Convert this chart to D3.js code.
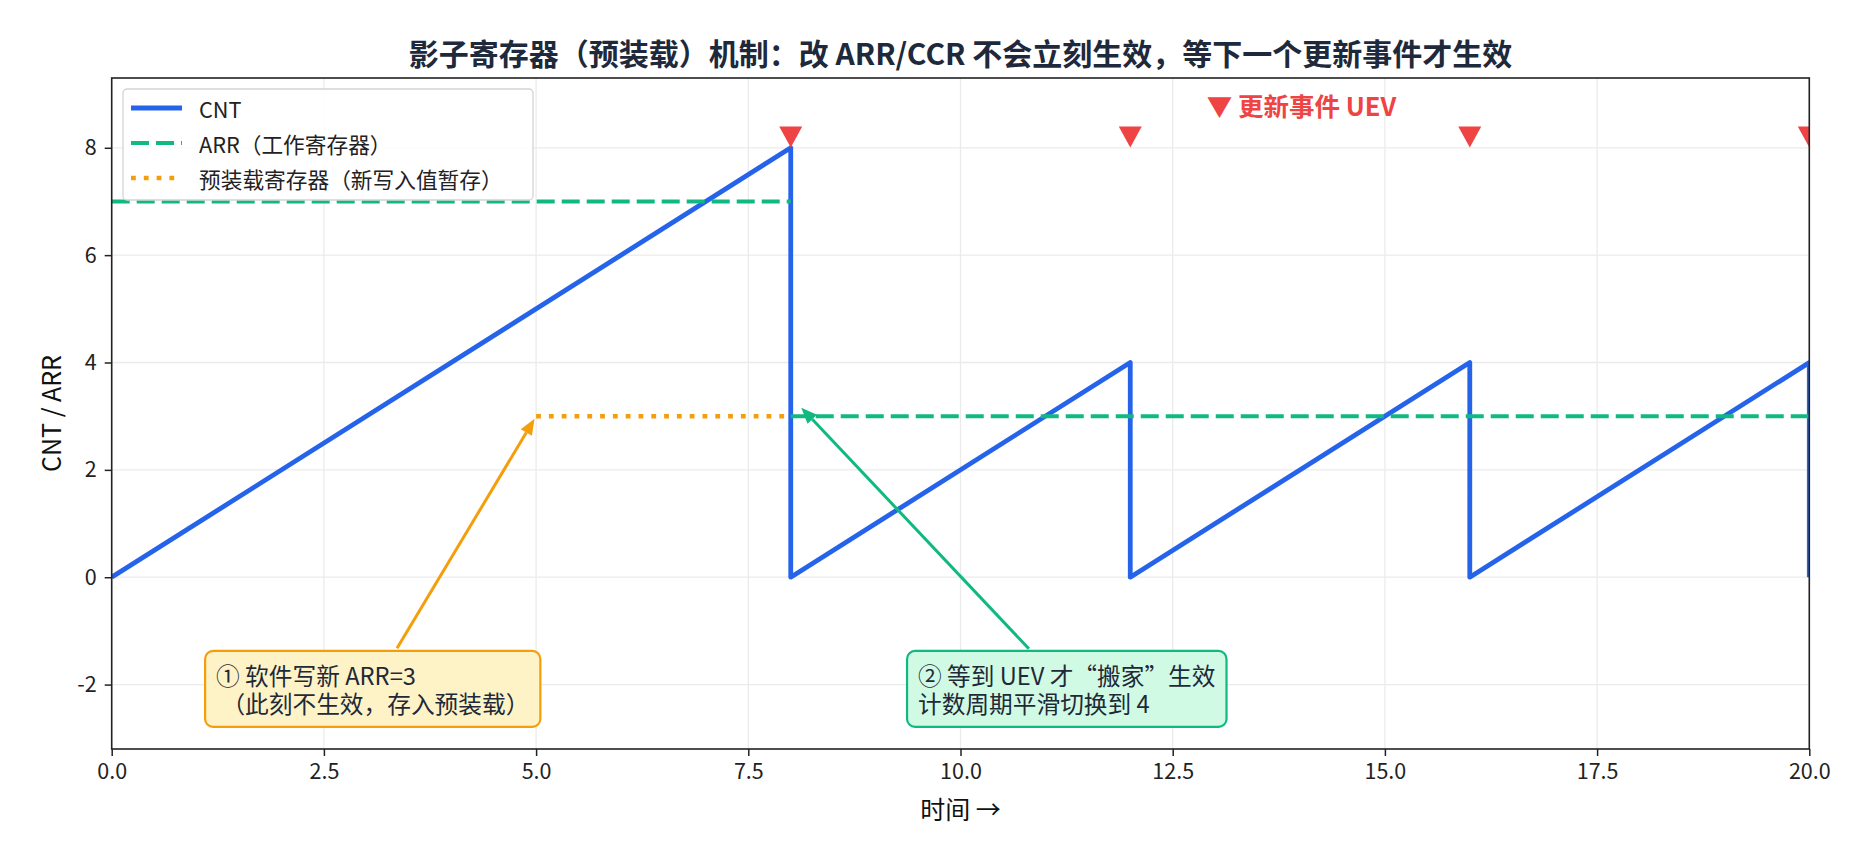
<!DOCTYPE html>
<html>
<head>
  <meta charset="utf-8">
  <title>影子寄存器</title>
  <style type="text/css">
    body { margin: 0; background: #fff; }
    svg { display: block; font-family: "Noto Sans CJK SC", "Noto Sans", sans-serif; }
  </style>
</head>
<body>
<div id="chart"></div>
<script src="https://cdn.jsdelivr.net/npm/d3@7"></script>
<script type="text/javascript">
// series
var cntT = [0, 8, 8, 12, 12, 16, 16, 20, 20];
var cntV = [0, 8, 0, 4, 0, 4, 0, 4, 0];
var arrT = [0, 8, null, 8, 20];
var arrV = [7, 7, null, 3, 3];
var preT = [5, 8];
var preV = [3, 3];
var uevT = [8, 12, 16, 20];
var uevV = [8.2, 8.2, 8.2, 8.2];

var xTicks = [0, 2.5, 5, 7.5, 10, 12.5, 15, 17.5, 20];
var yTicks = [-2, 0, 2, 4, 6, 8];

var legendLabels = ["CNT", "ARR（工作寄存器）", "预装载寄存器（新写入值暂存）"];
var noteTexts = [
  ["① 软件写新 ARR=3", " （此刻不生效，存入预装载）"],
  ["② 等到 UEV 才“搬家”生效", "计数周期平滑切换到 4"]
];
var noteAt = [[1.23, -2.08], [9.5, -2.08]];
var noteTarget = [[5, 3], [8.1, 3.2]];
var uevLabel = "▼ 更新事件 UEV";
var uevLabelAt = [12.9, 8.8];

var W = 1871, H = 863;
var m = {left: 111.7, right: 1809.3, top: 78, bottom: 749};
var colors = {cnt: "#2563eb", arr: "#10b981", pre: "#f59e0b", uev: "#ef4444"};
var noteStyle = [
  {fill: "#fef3c7", stroke: "#f59e0b"},
  {fill: "#d1fae5", stroke: "#10b981"}
];

var x = d3.scaleLinear().domain([0, 20]).range([m.left, m.right]);
var y = d3.scaleLinear().domain([-3.2, 9.3]).range([m.bottom, m.top]);

var svg = d3.select("#chart").append("svg")
  .attr("width", W).attr("height", H);

svg.append("rect").attr("width", W).attr("height", H).attr("fill", "#fff");

svg.append("defs").append("clipPath").attr("id", "plotclip")
  .append("rect")
  .attr("x", m.left).attr("y", m.top)
  .attr("width", m.right - m.left).attr("height", m.bottom - m.top);

// grid
var grid = svg.append("g").attr("stroke", "#ebebeb").attr("stroke-width", 1.3);
grid.selectAll(".gx").data(xTicks).enter().append("line")
  .attr("x1", d => x(d)).attr("x2", d => x(d))
  .attr("y1", m.top).attr("y2", m.bottom);
grid.selectAll(".gy").data(yTicks).enter().append("line")
  .attr("y1", d => y(d)).attr("y2", d => y(d))
  .attr("x1", m.left).attr("x2", m.right);

var plot = svg.append("g").attr("clip-path", "url(#plotclip)");

var line = d3.line()
  .defined(d => d[0] != null && d[1] != null)
  .x(d => x(d[0])).y(d => y(d[1]));

var lineStyles = [
  {c: colors.cnt, dash: null, w: 4.8},
  {c: colors.arr, dash: "18,7", w: 4},
  {c: colors.pre, dash: "4.8,8", w: 4.6}
];
[[cntT, cntV], [arrT, arrV], [preT, preV]].forEach((s, i) => {
  plot.append("path")
    .datum(d3.zip(s[0], s[1]))
    .attr("d", line)
    .attr("fill", "none").attr("stroke", lineStyles[i].c)
    .attr("stroke-width", lineStyles[i].w)
    .attr("stroke-dasharray", lineStyles[i].dash)
    .attr("stroke-linejoin", "round");
});

// update-event markers
plot.selectAll(".uev").data(d3.zip(uevT, uevV)).enter().append("path")
  .attr("transform", d => `translate(${x(d[0])},${y(d[1])})`)
  .attr("d", "M-11.5,-10.5L11.5,-10.5L0,10.5Z")
  .attr("fill", colors.uev);

svg.append("text")
  .attr("x", x(uevLabelAt[0])).attr("y", y(uevLabelAt[1]))
  .attr("dominant-baseline", "central")
  .attr("fill", colors.uev)
  .style("font-size", "25.5px").style("font-weight", "bold")
  .text(uevLabel);

// axes
var xAxis = svg.append("g").attr("transform", `translate(0,${m.bottom})`)
  .call(d3.axisBottom(x).tickValues(xTicks).tickFormat(d3.format(".1f")).tickSize(7).tickPadding(8));
var yAxis = svg.append("g").attr("transform", `translate(${m.left},0)`)
  .call(d3.axisLeft(y).tickValues(yTicks).tickFormat(d => d).tickSize(7).tickPadding(8));
[xAxis, yAxis].forEach(a => {
  a.select(".domain").remove();
  a.selectAll(".tick line").attr("stroke", "#222").attr("stroke-width", 1.5);
  a.selectAll(".tick text").attr("fill", "#222")
    .style("font-size", "21.5px").style("font-family", "'Noto Sans CJK SC', sans-serif");
});

svg.append("rect")
  .attr("x", m.left).attr("y", m.top)
  .attr("width", m.right - m.left).attr("height", m.bottom - m.top)
  .attr("fill", "none").attr("stroke", "#222").attr("stroke-width", 1.6);

// labels
svg.append("text")
  .attr("x", (m.left + m.right) / 2).attr("y", 65)
  .attr("text-anchor", "middle")
  .attr("fill", "#1e293b")
  .style("font-size", "30px").style("font-weight", "bold")
  .text("影子寄存器（预装载）机制：改 ARR/CCR 不会立刻生效，等下一个更新事件才生效");

svg.append("text")
  .attr("x", (m.left + m.right) / 2).attr("y", 808)
  .attr("text-anchor", "middle").attr("dominant-baseline", "central")
  .attr("fill", "#111")
  .style("font-size", "25px")
  .text("时间 →");

svg.append("text")
  .attr("transform", `translate(50,${(m.top + m.bottom) / 2}) rotate(-90)`)
  .attr("text-anchor", "middle").attr("dominant-baseline", "central")
  .attr("fill", "#111")
  .style("font-size", "25px")
  .text("CNT / ARR");

// legend
var lg = svg.append("g");
lg.append("rect")
  .attr("x", 123).attr("y", 89).attr("width", 410).attr("height", 111)
  .attr("rx", 4)
  .attr("fill", "#fff").attr("fill-opacity", 0.85)
  .attr("stroke", "#d4d4d4").attr("stroke-width", 1.3);
legendLabels.forEach((lab, i) => {
  var cy = 108 + i * 35;
  lg.append("line")
    .attr("x1", 131).attr("x2", 182).attr("y1", cy).attr("y2", cy)
    .attr("stroke", lineStyles[i].c).attr("stroke-width", lineStyles[i].w)
    .attr("stroke-dasharray", lineStyles[i].dash);
  lg.append("text")
    .attr("x", 199).attr("y", cy)
    .attr("dominant-baseline", "central")
    .attr("fill", "#222")
    .style("font-size", "21.7px")
    .text(lab);
});

// annotations
noteTexts.forEach((lines, i) => {
  var g = svg.append("g");
  var tx = x(noteAt[i][0]), cy = y(noteAt[i][1]);
  var lh = 28.5, pad = 11;
  var t = g.append("text")
    .attr("fill", "#1f2937")
    .attr("xml:space", "preserve")
    .style("white-space", "pre")
    .style("font-size", "23.7px");
  lines.forEach((s, k) => {
    t.append("tspan")
      .attr("x", tx)
      .attr("y", cy + (k - (lines.length - 1) / 2) * lh)
      .attr("dominant-baseline", "central")
      .text(s);
  });
  var bb = t.node().getBBox();
  var bx = bb.x - pad, bw = bb.width + 2 * pad;
  var bh = lines.length * lh + 19, by = cy - bh / 2;
  g.insert("rect", "text")
    .attr("x", bx).attr("y", by).attr("width", bw).attr("height", bh)
    .attr("rx", 8)
    .attr("fill", noteStyle[i].fill)
    .attr("stroke", noteStyle[i].stroke).attr("stroke-width", 2.2);

  // arrow from box edge toward target
  var cx = bx + bw / 2, cyy = by + bh / 2;
  var px = x(noteTarget[i][0]), py = y(noteTarget[i][1]);
  var dx = px - cx, dy = py - cyy;
  var tEdge = Math.min(Math.abs((bw / 2) / dx), Math.abs((bh / 2) / dy));
  var len = Math.hypot(dx, dy);
  var ux = dx / len, uy = dy / len;
  var sx = cx + dx * tEdge + ux * 3, sy = cyy + dy * tEdge + uy * 3;
  var ex = px - ux * 3, ey = py - uy * 3;
  var hl = 16, hw = 6.5;
  var bxh = ex - ux * hl, byh = ey - uy * hl;
  g.append("line")
    .attr("x1", sx).attr("y1", sy).attr("x2", bxh).attr("y2", byh)
    .attr("stroke", noteStyle[i].stroke).attr("stroke-width", 3);
  g.append("path")
    .attr("d", `M${ex},${ey}L${bxh - uy * hw},${byh + ux * hw}L${bxh + uy * hw},${byh - ux * hw}Z`)
    .attr("fill", noteStyle[i].stroke);
});
</script>
</body>
</html>
